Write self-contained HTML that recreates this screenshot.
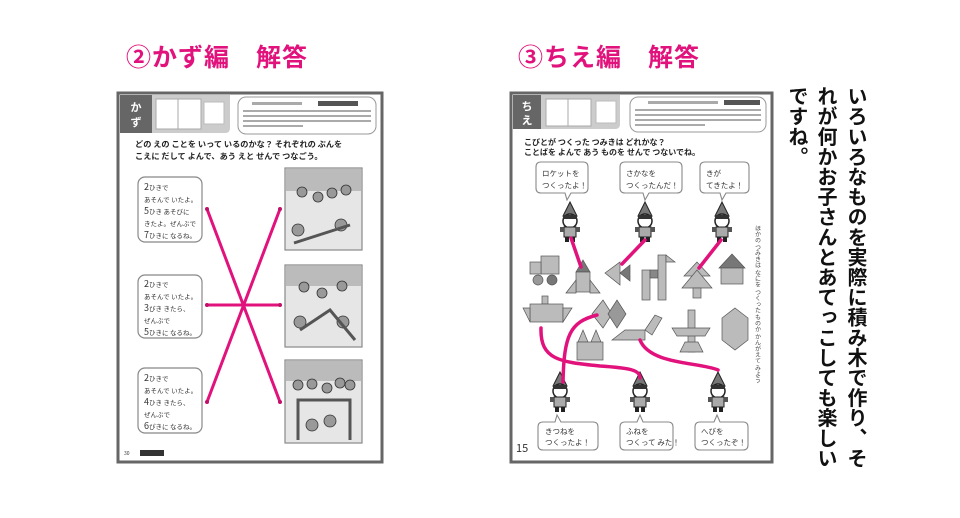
<!DOCTYPE html>
<html><head><meta charset="utf-8"><style>
*{margin:0;padding:0;box-sizing:border-box}
body{width:960px;height:518px;background:#fff;position:relative;overflow:hidden;font-family:"Liberation Sans","Noto Sans CJK JP",sans-serif}
.h{position:absolute;top:38px;font-size:25px;font-weight:bold;color:#e2127d;letter-spacing:1px;white-space:nowrap;font-family:"Noto Sans CJK JP",sans-serif}
.v{position:absolute;top:86px;writing-mode:vertical-rl;font-size:20px;line-height:30px;font-weight:bold;color:#111;letter-spacing:0.1px;font-family:"Noto Sans CJK JP",sans-serif}
svg{position:absolute;left:0;top:0}
svg text{font-family:"Noto Sans CJK JP",sans-serif}
</style></head><body>
<div class="h" style="left:126px">②かず編　解答</div>
<div class="h" style="left:518px">③ちえ編　解答</div>
<div class="v" style="left:842px;height:390px">いろいろなものを実際に積み木で作り、そ</div>
<div class="v" style="left:812px;height:390px">れが何かお子さんとあてっこしても楽しい</div>
<div class="v" style="left:783px;height:390px">ですね。</div>
<svg width="960" height="518" viewBox="0 0 960 518">
<defs>
<g id="kid"><polygon points="0,-16 -7,-2 7,-2" fill="#777" stroke="#222"/><circle cx="0" cy="3" r="7" fill="#fff" stroke="#222" stroke-width="1.5"/><rect x="-7" y="-3" width="14" height="4" fill="#333"/><rect x="-6" y="9" width="12" height="10" fill="#aaa" stroke="#222"/><rect x="-10" y="9" width="4" height="5" fill="#555"/><rect x="6" y="9" width="4" height="5" fill="#555"/><rect x="-5" y="19" width="4" height="5" fill="#222"/><rect x="1" y="19" width="4" height="5" fill="#222"/></g>
</defs>
<!-- LEFT PAGE -->
<rect x="118" y="93" width="264" height="369" fill="#fff" stroke="#666" stroke-width="3"/>
<path d="M120 95 H230 V128 Q230 133 225 133 H128 Q120 133 120 125Z" fill="#ccc"/>
<rect x="120" y="95" width="32" height="38" fill="#666"/>
<text x="136" y="111" font-size="11" fill="#fff" text-anchor="middle" font-weight="bold">か</text>
<text x="136" y="126" font-size="11" fill="#fff" text-anchor="middle" font-weight="bold">ず</text>
<rect x="156" y="99" width="45" height="30" fill="#fff" stroke="#aaa"/><line x1="178" y1="99" x2="178" y2="129" stroke="#aaa"/>
<rect x="204" y="102" width="20" height="22" fill="#fff" stroke="#bbb"/>
<rect x="238" y="97" width="138" height="37" rx="8" fill="#fff" stroke="#999"/>
<g fill="#aaa"><rect x="252" y="102" width="50" height="3"/><rect x="318" y="101" width="40" height="5" fill="#555"/><rect x="243" y="110" width="128" height="2"/><rect x="243" y="115" width="128" height="2"/><rect x="243" y="120" width="128" height="2"/><rect x="243" y="125" width="60" height="2"/></g>
<text x="135" y="147" font-size="8.2" font-weight="bold" fill="#222">どの えの ことを いって いるのかな？ それぞれの ぶんを</text>
<text x="135" y="159" font-size="8.2" font-weight="bold" fill="#222">こえに だして よんで、あう えと せんで つなごう。</text>
<g fill="#fff" stroke="#888" stroke-width="1.2">
<rect x="138" y="177" width="64" height="65" rx="7"/><rect x="138" y="275" width="64" height="63" rx="7"/><rect x="138" y="368" width="64" height="65" rx="7"/>
</g>
<g font-size="6.5" fill="#333">
<text x="144" y="190" font-size="9">2<tspan font-size="6.5">ひきで</tspan></text><text x="144" y="202">あそんで いたよ。</text><text x="144" y="214" font-size="9">5<tspan font-size="6.5">ひき あそびに</tspan></text><text x="144" y="226">きたよ。ぜんぶで</text><text x="144" y="238" font-size="9">7<tspan font-size="6.5">ひきに なるね。</tspan></text>
<text x="144" y="287" font-size="9">2<tspan font-size="6.5">ひきで</tspan></text><text x="144" y="299">あそんで いたよ。</text><text x="144" y="311" font-size="9">3<tspan font-size="6.5">びき きたら、</tspan></text><text x="144" y="323">ぜんぶで</text><text x="144" y="335" font-size="9">5<tspan font-size="6.5">ひきに なるね。</tspan></text>
<text x="144" y="381" font-size="9">2<tspan font-size="6.5">ひきで</tspan></text><text x="144" y="393">あそんで いたよ。</text><text x="144" y="405" font-size="9">4<tspan font-size="6.5">ひき きたら、</tspan></text><text x="144" y="417">ぜんぶで</text><text x="144" y="429" font-size="9">6<tspan font-size="6.5">ぴきに なるね。</tspan></text>
</g>
<g stroke="#888" stroke-width="1.2">
<rect x="285" y="168" width="77" height="82" fill="#e6e6e6"/><rect x="285" y="265" width="77" height="82" fill="#e6e6e6"/><rect x="285" y="360" width="77" height="83" fill="#e6e6e6"/>
</g>
<g fill="#bbb"><rect x="286" y="169" width="75" height="22"/><rect x="286" y="266" width="75" height="20"/><rect x="286" y="361" width="75" height="20"/></g>
<g fill="#999" stroke="#333" stroke-width="0.8">
<circle cx="302" cy="192" r="5"/><circle cx="318" cy="197" r="5"/><circle cx="332" cy="193" r="5"/><circle cx="346" cy="190" r="5"/><circle cx="298" cy="230" r="6"/><circle cx="341" cy="225" r="6"/>
<circle cx="304" cy="287" r="5"/><circle cx="322" cy="293" r="5"/><circle cx="342" cy="286" r="5"/><circle cx="300" cy="322" r="6"/><circle cx="343" cy="322" r="6"/>
<circle cx="298" cy="385" r="5"/><circle cx="312" cy="384" r="5"/><circle cx="327" cy="388" r="5"/><circle cx="340" cy="383" r="5"/><circle cx="350" cy="385" r="5"/><circle cx="312" cy="425" r="6"/><circle cx="330" cy="421" r="6"/>
</g>
<path d="M294 243 L350 225" stroke="#555" stroke-width="3"/>
<path d="M300 330 L330 310 L355 340" stroke="#555" stroke-width="3" fill="none"/>
<path d="M298 440 V400 H350 V440" stroke="#555" stroke-width="3" fill="none"/>
<g stroke="#e2127d" stroke-width="3">
<line x1="207" y1="209" x2="280" y2="402"/><line x1="207" y1="305" x2="280" y2="305"/><line x1="207" y1="402" x2="280" y2="209"/>
</g>
<g fill="#c0106a"><circle cx="207" cy="209" r="2"/><circle cx="207" cy="305" r="2"/><circle cx="207" cy="402" r="2"/><circle cx="280" cy="209" r="2"/><circle cx="280" cy="305" r="2"/><circle cx="280" cy="402" r="2"/></g>
<text x="124" y="455" font-size="5" fill="#333">30</text><rect x="140" y="450" width="24" height="6" fill="#333"/>
<!-- RIGHT PAGE -->
<rect x="511" y="93" width="261" height="369" fill="#fff" stroke="#666" stroke-width="3"/>
<path d="M513 95 H620 V124 Q620 129 615 129 H522 Q513 129 513 121Z" fill="#ccc"/>
<rect x="513" y="95" width="28" height="34" fill="#666"/>
<text x="527" y="110" font-size="11" fill="#fff" text-anchor="middle" font-weight="bold">ち</text>
<text x="527" y="124" font-size="11" fill="#fff" text-anchor="middle" font-weight="bold">え</text>
<rect x="546" y="99" width="45" height="27" fill="#fff" stroke="#aaa"/><line x1="568" y1="99" x2="568" y2="126" stroke="#aaa"/>
<rect x="596" y="101" width="20" height="22" fill="#fff" stroke="#bbb"/>
<rect x="630" y="97" width="136" height="35" rx="8" fill="#fff" stroke="#999"/>
<g fill="#aaa"><rect x="648" y="101" width="70" height="3"/><rect x="724" y="100" width="36" height="5" fill="#555"/><rect x="635" y="109" width="126" height="2"/><rect x="635" y="114" width="126" height="2"/><rect x="635" y="119" width="126" height="2"/><rect x="635" y="124" width="70" height="2"/></g>
<text x="524" y="145" font-size="8" font-weight="bold" fill="#222">こびとが つくった つみきは どれかな？</text>
<text x="524" y="155" font-size="8" font-weight="bold" fill="#222">ことばを よんで あう ものを せんで つないでね。</text>
<g fill="#fff" stroke="#888" stroke-width="1.1">
<path d="M541 162 H583 Q588 162 588 167 V188 Q588 193 583 193 H571 L567 200 L565 193 H541 Q536 193 536 188 V167 Q536 162 541 162Z"/>
<path d="M625 162 H677 Q682 162 682 167 V188 Q682 193 677 193 H649 L645 200 L643 193 H625 Q620 193 620 188 V167 Q620 162 625 162Z"/>
<path d="M705 162 H744 Q749 162 749 167 V188 Q749 193 744 193 H726 L722 200 L720 193 H705 Q700 193 700 188 V167 Q700 162 705 162Z"/>
<path d="M543 422 H555 L557 415 L561 422 H593 Q598 422 598 427 V445 Q598 450 593 450 H543 Q538 450 538 445 V427 Q538 422 543 422Z"/>
<path d="M625 422 H637 L640 415 L643 422 H668 Q673 422 673 427 V445 Q673 450 668 450 H625 Q620 450 620 445 V427 Q620 422 625 422Z"/>
<path d="M700 422 H714 L717 415 L720 422 H743 Q748 422 748 427 V445 Q748 450 743 450 H700 Q695 450 695 445 V427 Q695 422 700 422Z"/>
</g>
<g font-size="7.5" fill="#333">
<text x="542" y="176">ロケットを</text><text x="542" y="188">つくったよ！</text>
<text x="626" y="176">さかなを</text><text x="626" y="188">つくったんだ！</text>
<text x="706" y="176">きが</text><text x="706" y="188">てきたよ！</text>
<text x="545" y="434">きつねを</text><text x="545" y="445">つくったよ！</text>
<text x="626" y="434">ふねを</text><text x="626" y="445">つくって みた！</text>
<text x="701" y="434">へびを</text><text x="701" y="445">つくったぞ！</text>
</g>
<use href="#kid" x="570" y="218"/><use href="#kid" x="645" y="218"/><use href="#kid" x="722" y="218"/>
<use href="#kid" x="560" y="388"/><use href="#kid" x="640" y="388"/><use href="#kid" x="718" y="388"/>
<g fill="#bbb" stroke="#555" stroke-width="0.7">
<rect x="541" y="256" width="18" height="18"/><rect x="530" y="262" width="11" height="12"/><circle cx="538" cy="280" r="5" fill="#999"/><circle cx="552" cy="280" r="5" fill="#777"/>
<polygon points="583,260 590,272 576,272" fill="#777"/><rect x="576" y="272" width="14" height="20"/><polygon points="566,293 576,280 576,293"/><polygon points="600,293 590,280 590,293"/>
<polygon points="605,273 620,262 620,285"/><polygon points="620,273 630,265 630,281" fill="#777"/>
<rect x="642" y="270" width="8" height="30"/><rect x="650" y="270" width="8" height="8" fill="#888"/><rect x="658" y="255" width="8" height="45"/><polygon points="666,255 675,262 666,262"/>
<polygon points="697,262 684,276 710,276"/><polygon points="697,270 682,288 712,288"/><rect x="693" y="288" width="8" height="10"/>
<polygon points="732,254 719,268 745,268" fill="#777"/><rect x="721" y="268" width="22" height="16"/>
<rect x="542" y="296" width="6" height="8"/><rect x="530" y="304" width="33" height="18"/><polygon points="523,308 530,308 530,322"/><polygon points="563,308 572,308 563,322"/>
<polygon points="592,314 603,300 612,314 603,328" /><polygon points="608,314 617,300 626,314 617,328" fill="#999"/>
<polygon points="583,330 578,342 588,342"/><polygon points="596,330 591,342 601,342"/><rect x="577" y="342" width="26" height="18"/>
<polygon points="612,340 625,330 645,330 645,340"/><polygon points="645,330 655,315 662,318 652,335"/>
<rect x="688" y="310" width="7" height="42"/><polygon points="672,328 710,328 705,336 677,336"/><polygon points="680,352 703,352 698,342 685,342"/>
<polygon points="735,308 748,318 748,340 735,350 722,340 722,318"/>
</g>
<g stroke="#e2127d" stroke-width="3.5" fill="none" stroke-linecap="round">
<line x1="571" y1="238" x2="581" y2="267"/>
<line x1="645" y1="240" x2="622" y2="264"/>
<line x1="721" y1="240" x2="699" y2="268"/>
<path d="M541 328 C540 360 560 362 600 366 C630 368 640 370 640 378"/>
<path d="M597 315 C570 322 564 335 563 382"/>
<path d="M640 340 C650 365 700 362 718 370"/>
</g>
<text x="758" y="225" font-size="6" fill="#444" writing-mode="tb">ほかの つみきは なにを つくった ものか かんがえて みよう</text>
<text x="516" y="452" font-size="11" fill="#333">15</text>
</svg>
</body></html>
